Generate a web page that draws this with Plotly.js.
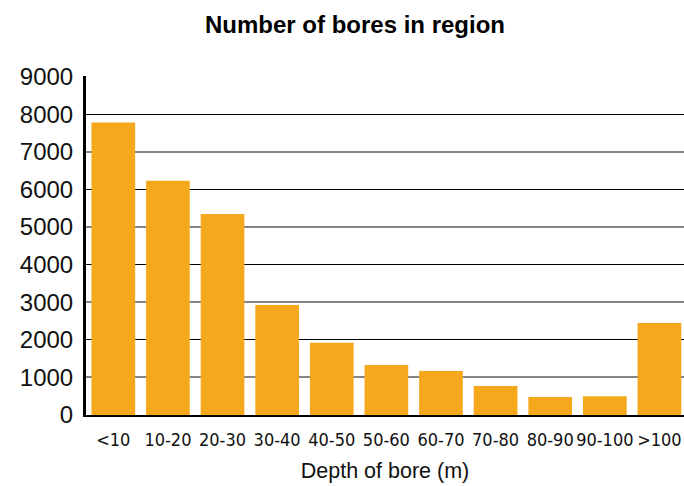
<!DOCTYPE html>
<html>
<head>
<meta charset="utf-8">
<script src="https://cdn.plot.ly/plotly-3.0.1.min.js"></script>
<style>html,body{margin:0;padding:0;background:#fff;}#chart{width:684px;height:486px;}</style>
</head>
<body>
<div id="chart"></div>
<script>
var categories = ["<10", "10-20", "20-30", "30-40", "40-50", "50-60", "60-70", "70-80", "80-90", "90-100", ">100"];
var boreCounts = [7780, 6230, 5350, 2930, 1920, 1330, 1170, 770, 480, 500, 2450];
var yTickValues = [0, 1000, 2000, 3000, 4000, 5000, 6000, 7000, 8000, 9000];
var yTickLabels = ["0", "1000", "2000", "3000", "4000", "5000", "6000", "7000", "8000", "9000"];
var yRange = [0, 9020];

var trace = {
  type: "bar",
  x: categories,
  y: boreCounts,
  marker: {color: "#F6A81D"},
  hoverinfo: "x+y"
};
// empty helper traces so the overlaid grid axes are created (they draw nothing)
var gridBlack = {type: "scatter", mode: "markers", x: [], y: [], yaxis: "y2", showlegend: false, hoverinfo: "skip"};
var gridGray = {type: "scatter", mode: "markers", x: [], y: [], yaxis: "y3", showlegend: false, hoverinfo: "skip"};

var layout = {
  width: 684,
  height: 486,
  margin: {l: 86, r: 0, t: 76, b: 71, pad: 0},
  paper_bgcolor: "#ffffff",
  plot_bgcolor: "#ffffff",
  showlegend: false,
  bargap: 0.2,
  title: {
    text: "<b>Number of bores in region</b>",
    font: {family: "Liberation Sans, Arial, sans-serif", size: 24, color: "#000"},
    x: 355 / 684,
    xref: "container",
    xanchor: "center",
    y: 1 - 25 / 486,
    yref: "container",
    yanchor: "middle"
  },
  xaxis: {
    type: "category",
    range: [-0.5, 10.45],
    showline: true,
    linecolor: "#000",
    linewidth: 2,
    showgrid: false,
    zeroline: false,
    tickangle: 0,
    ticks: "outside",
    ticklen: 7,
    tickcolor: "rgba(0,0,0,0)",
    tickfont: {family: "DejaVu Sans Condensed, DejaVu Sans, sans-serif", stretch: "condensed", size: 18, color: "#111"},
    title: {
      text: "Depth of bore (m)",
      font: {family: "Liberation Sans, Arial, sans-serif", size: 21.5, color: "#111"},
      standoff: 14
    },
    fixedrange: true
  },
  yaxis: {
    range: yRange,
    tickmode: "array",
    tickvals: yTickValues,
    ticktext: yTickLabels,
    showgrid: false,
    zeroline: false,
    showline: true,
    linecolor: "#000",
    linewidth: 3,
    ticks: "outside",
    ticklen: 5,
    tickcolor: "rgba(0,0,0,0)",
    tickfont: {family: "Liberation Sans, Arial, sans-serif", size: 24, color: "#111"},
    fixedrange: true
  },
  yaxis2: {
    overlaying: "y",
    range: yRange,
    tickmode: "linear",
    tick0: 0,
    dtick: 2000,
    showticklabels: false,
    ticks: "",
    showgrid: true,
    gridcolor: "#000",
    gridwidth: 1.2,
    zeroline: false,
    showline: false,
    fixedrange: true
  },
  yaxis3: {
    overlaying: "y",
    range: yRange,
    tickmode: "linear",
    tick0: 1000,
    dtick: 2000,
    showticklabels: false,
    ticks: "",
    showgrid: true,
    gridcolor: "#858585",
    gridwidth: 2,
    zeroline: false,
    showline: false,
    fixedrange: true
  }
};

Plotly.newPlot("chart", [trace, gridBlack, gridGray], layout, {displayModeBar: false, staticPlot: true});
</script>
</body>
</html>
